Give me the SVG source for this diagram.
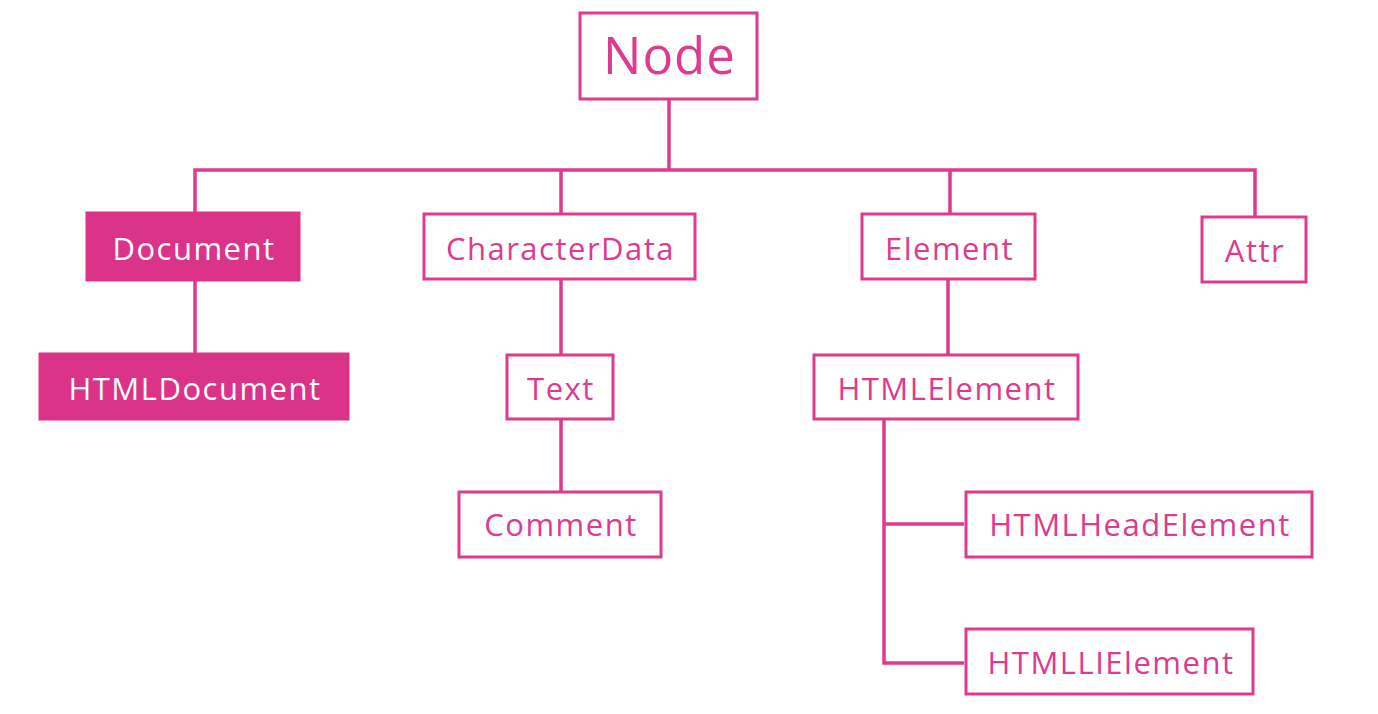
<svg xmlns="http://www.w3.org/2000/svg" width="1378" height="714" viewBox="0 0 1378 714">
<style>
.box{fill:#fff;stroke:#de3a8e;stroke-width:3}
.fbox{fill:#db3388;stroke:#db3388;stroke-width:3}
.t{font-family:"Open Sans","Noto Sans","DejaVu Sans",sans-serif;font-size:31px;letter-spacing:1.5px;fill:#de3a8e;text-anchor:middle}
.ft{fill:#fff}
.c{fill:none;stroke:#de3a8e;stroke-width:3.5}
</style>
<rect width="1378" height="714" fill="#fff"/>
<g id="connectors">
<path class="c" d="M669 99V170M195 213V170H1255V217M561 170V214M950 170V214"/>
<path class="c" d="M195 280V355M561 279V355M561 419V492M948 279V355M884 419V663H964M884 524H964"/>
</g>
<g id="node-node"><rect class="box" x="580" y="13" width="177" height="86"/><text class="t" x="669.5" y="74" style="font-size:51px;letter-spacing:1px">Node</text></g>
<g id="node-document"><rect class="fbox" x="87" y="213" width="212" height="67"/><text class="t ft" x="194" y="260">Document</text></g>
<g id="node-htmldocument"><rect class="fbox" x="40" y="354" width="308" height="65"/><text class="t ft" x="195" y="400">HTMLDocument</text></g>
<g id="node-characterdata"><rect class="box" x="424" y="214" width="271" height="65"/><text class="t" x="560.5" y="260">CharacterData</text></g>
<g id="node-text"><rect class="box" x="507" y="355" width="106" height="64"/><text class="t" x="561" y="400">Text</text></g>
<g id="node-comment"><rect class="box" x="459" y="492" width="202" height="65"/><text class="t" x="561" y="536">Comment</text></g>
<g id="node-element"><rect class="box" x="862" y="214" width="173" height="65"/><text class="t" x="949.5" y="260">Element</text></g>
<g id="node-attr"><rect class="box" x="1202" y="217" width="104" height="65"/><text class="t" x="1255" y="262">Attr</text></g>
<g id="node-htmlelement"><rect class="box" x="814" y="355" width="264" height="64"/><text class="t" x="947" y="400">HTMLElement</text></g>
<g id="node-htmlheadelement"><rect class="box" x="966" y="492" width="346" height="65"/><text class="t" x="1140" y="536">HTMLHeadElement</text></g>
<g id="node-htmllielement"><rect class="box" x="966" y="629" width="287" height="65"/><text class="t" x="1111" y="674">HTMLLIElement</text></g>
</svg>
